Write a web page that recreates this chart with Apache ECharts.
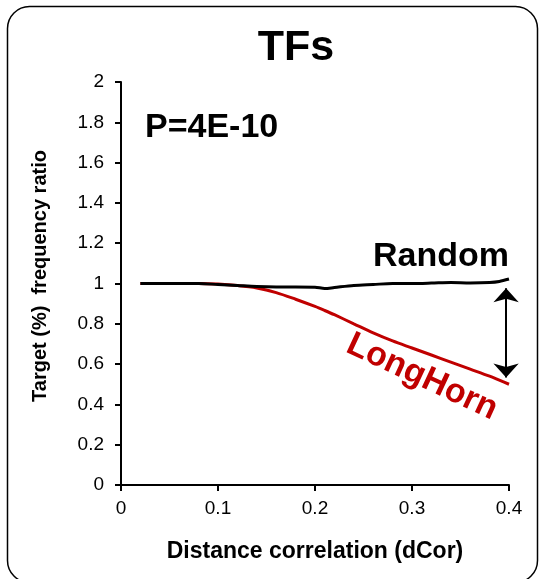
<!DOCTYPE html>
<html>
<head>
<meta charset="utf-8">
<script src="https://cdn.jsdelivr.net/npm/echarts@6/dist/echarts.min.js"></script>
<style>
  html, body { margin: 0; padding: 0; background: #fff; }
  #chart { width: 539px; height: 579px; }
</style>
</head>
<body>
<div id="chart"></div>
<script>
// Distance correlation thresholds (dCor)
const dcor = [0.02, 0.04, 0.06, 0.08, 0.10, 0.12, 0.14, 0.16, 0.18, 0.20,
              0.21, 0.22, 0.24, 0.26, 0.28, 0.30, 0.32, 0.34, 0.36, 0.38, 0.39, 0.40];
// Target (%) frequency ratio for LongHorn predictions
const longHorn = [1.0, 1.0, 1.0, 1.0, 0.997, 0.99, 0.978, 0.955, 0.922, 0.886,
                  0.866, 0.845, 0.80, 0.755, 0.715, 0.68, 0.645, 0.61, 0.575, 0.54, 0.52, 0.50];
// Target (%) frequency ratio for random predictions
const random = [1.0, 1.0, 1.0, 1.0, 0.995, 0.99, 0.985, 0.983, 0.983, 0.982,
                0.975, 0.98, 0.99, 0.995, 1.0, 1.0, 1.002, 1.005, 1.003, 1.005, 1.01, 1.022];
// Vertical gap marker between the two curves at the last threshold
const gapX = 0.397;
const gapTop = 0.976;
const gapBottom = 0.534;

const xTicks = { min: 0, max: 0.4, interval: 0.1 };
const yTicks = { min: 0, max: 2, interval: 0.2 };

const pairs = (xs, ys) => xs.map((x, i) => [x, ys[i]]);

const font = '"Liberation Sans", Arial, sans-serif';
const chart = echarts.init(document.getElementById('chart'), null, { renderer: 'canvas' });

chart.setOption({
  animation: false,
  backgroundColor: '#fff',
  grid: { left: 121, right: 30, top: 82, bottom: 94, containLabel: false },
  xAxis: {
    type: 'value',
    min: xTicks.min, max: xTicks.max, interval: xTicks.interval,
    name: 'Distance correlation (dCor)',
    nameLocation: 'middle',
    nameGap: 55,
    nameTextStyle: { fontFamily: font, fontWeight: 'bold', fontSize: 23, color: '#000' },
    axisLine: { show: true, onZero: false, lineStyle: { color: '#000', width: 2 } },
    axisTick: { show: true, inside: false, length: 6, lineStyle: { color: '#000', width: 2 } },
    axisLabel: { fontFamily: font, fontSize: 19, color: '#000', margin: 14 },
    splitLine: { show: false }
  },
  yAxis: {
    type: 'value',
    min: yTicks.min, max: yTicks.max, interval: yTicks.interval,
    axisLine: { show: true, lineStyle: { color: '#000', width: 2 } },
    axisTick: { show: true, inside: false, length: 6, lineStyle: { color: '#000', width: 2 } },
    axisLabel: { fontFamily: font, fontSize: 19, color: '#000', margin: 17 },
    splitLine: { show: false }
  },
  series: [
    {
      name: 'LongHorn',
      type: 'line',
      data: pairs(dcor, longHorn),
      showSymbol: false,
      smooth: 0.3,
      lineStyle: { color: '#C00000', width: 3 },
      z: 2
    },
    {
      name: 'Random',
      type: 'line',
      data: pairs(dcor, random),
      showSymbol: false,
      smooth: 0.3,
      lineStyle: { color: '#000', width: 3 },
      z: 3,
      markLine: {
        silent: true,
        symbol: ['arrow', 'arrow'],
        symbolSize: [19, 14],
        label: { show: false },
        lineStyle: { color: '#000', width: 2, type: 'solid' },
        data: [[{ coord: [gapX, gapTop] }, { coord: [gapX, gapBottom] }]]
      }
    }
  ],
  graphic: [
    {
      type: 'rect',
      shape: { x: 7.5, y: 6.5, width: 530, height: 576, r: 22 },
      style: { fill: 'none', stroke: '#000', lineWidth: 1.5 },
      silent: true
    },
    {
      type: 'text',
      x: 296, y: 48,
      style: { text: 'TFs', fontFamily: font, fontWeight: 'bold', fontSize: 43,
               fill: '#000', textAlign: 'center', textVerticalAlign: 'middle' }
    },
    {
      type: 'text',
      x: 40, y: 276,
      rotation: Math.PI / 2,
      style: { text: 'Target (%)  frequency ratio', fontFamily: font, fontWeight: 'bold',
               fontSize: 20, fill: '#000', textAlign: 'center', textVerticalAlign: 'middle' }
    },
    {
      type: 'text',
      x: 145, y: 128,
      style: { text: 'P=4E-10', fontFamily: font, fontWeight: 'bold', fontSize: 34,
               fill: '#000', textAlign: 'left', textVerticalAlign: 'middle' }
    },
    {
      type: 'text',
      x: 441, y: 257,
      style: { text: 'Random', fontFamily: font, fontWeight: 'bold', fontSize: 34,
               fill: '#000', textAlign: 'center', textVerticalAlign: 'middle' }
    },
    {
      type: 'text',
      x: 422, y: 377,
      rotation: -25 * Math.PI / 180,
      style: { text: 'LongHorn', fontFamily: font, fontWeight: 'bold', fontSize: 34,
               fill: '#C00000', textAlign: 'center', textVerticalAlign: 'middle' }
    }
  ]
});
</script>
</body>
</html>
